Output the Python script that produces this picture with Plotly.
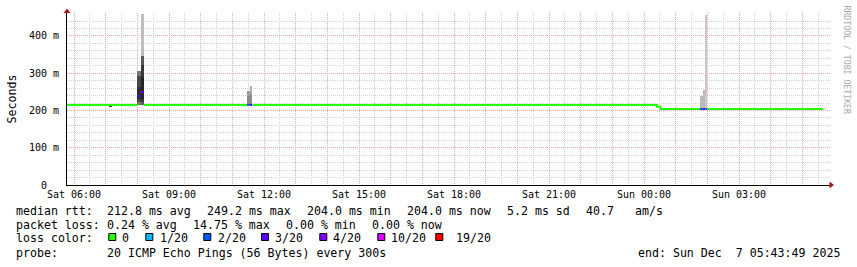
import pandas as pd
import plotly.graph_objects as go

# ---------------- data ----------------
loss_labels = ["0", "1/20", "2/20", "3/20", "4/20", "10/20", "19/20"]
loss_colors = ["#26ff00", "#00b8ff", "#0059ff", "#5e00ff", "#7e00ff", "#dd00ff", "#ff0000"]

# median RTT step segments (ms) with loss-colour index
med_start = ["2025-12-06 05:45:00", "2025-12-06 07:59:55", "2025-12-06 08:06:00",
             "2025-12-06 08:11:50", "2025-12-06 11:27:50", "2025-12-06 11:32:45",
             "2025-12-06 11:37:40", "2025-12-07 00:24:30", "2025-12-07 00:31:10",
             "2025-12-07 01:46:00", "2025-12-07 01:51:20", "2025-12-07 01:56:40",
             "2025-12-07 01:59:40"]
med_last_end = "2025-12-07 05:39:30"
med_ms = [215, 239, 249, 215, 215, 215, 215, 210, 204, 204, 204, 204, 204]
med_loss = [0, 3, 4, 0, 2, 3, 0, 0, 0, 2, 3, 2, 0]

# smoke (ping spread) layers: start, end, low ms, high ms, shade
smoke_start = ["2025-12-06 07:06:20",
               "2025-12-06 07:59:55", "2025-12-06 07:59:55", "2025-12-06 07:59:55",
               "2025-12-06 08:06:00", "2025-12-06 08:06:00", "2025-12-06 08:06:00", "2025-12-06 08:06:00",
               "2025-12-06 11:27:50", "2025-12-06 11:27:50",
               "2025-12-06 11:32:45", "2025-12-06 11:32:45",
               "2025-12-07 01:46:00", "2025-12-07 01:51:20", "2025-12-07 01:56:40"]
smoke_end = ["2025-12-06 07:12:00",
             "2025-12-06 08:06:00", "2025-12-06 08:06:00", "2025-12-06 08:06:00",
             "2025-12-06 08:11:50", "2025-12-06 08:11:50", "2025-12-06 08:11:50", "2025-12-06 08:11:50",
             "2025-12-06 11:32:45", "2025-12-06 11:32:45",
             "2025-12-06 11:37:40", "2025-12-06 11:37:40",
             "2025-12-07 01:51:20", "2025-12-07 01:56:40", "2025-12-07 01:59:40"]
smoke_lo = [210, 215, 222, 230, 215, 216, 222, 232, 215, 215, 215, 215, 204, 204, 204]
smoke_hi = [213, 306, 292, 262, 460, 346, 322, 290, 251, 240, 267, 245, 240, 255, 456]
smoke_shade = ["#333333", "#777777", "#474747", "#2e2e2e", "#bdbdbd", "#585858", "#383838",
               "#262626", "#9a9a9a", "#8a8a8a", "#acacac", "#8c8c8c", "#bbbbbb", "#bbbbbb", "#c8c8c8"]

# axis ticks
y_tickvals = [0, 100, 200, 300, 400]
y_ticktext = ["0\u00a0\u00a0", "100 m", "200 m", "300 m", "400 m"]
x_tickvals = list(pd.date_range("2025-12-06 06:00", "2025-12-07 05:00", freq="1h"))
x_label_text = {"2025-12-06 06:00": "Sat 06:00", "2025-12-06 09:00": "Sat 09:00",
                "2025-12-06 12:00": "Sat 12:00", "2025-12-06 15:00": "Sat 15:00",
                "2025-12-06 18:00": "Sat 18:00", "2025-12-06 21:00": "Sat 21:00",
                "2025-12-07 00:00": "Sun 00:00", "2025-12-07 03:00": "Sun 03:00"}
x_range = ["2025-12-06 05:46:44", "2025-12-07 05:52:25"]

# statistics legend
rtt_stats = ["median rtt:", "212.8 ms avg", "249.2 ms max", "204.0 ms min", "204.0 ms now",
             "5.2 ms sd", "40.7", "am/s"]
loss_stats = ["packet loss:", "0.24 % avg", "14.75 % max", "0.00 % min", "0.00 % now"]
probe_text = ["probe:", "20 ICMP Echo Pings (56 Bytes) every 300s"]
end_text = "end: Sun Dec  7 05:43:49 2025"

# ---------------- layout geometry (pixels) ----------------
W, H = 857, 267
L, R, T, B = 67, 830, 13, 185


def px(x):
    return (x - L) / (R - L)


def py(y):
    return (B - y) / (B - T)


MONO = "DejaVu Sans Mono"
fig = go.Figure()

# smoke bars
s0 = pd.to_datetime(smoke_start)
s1 = pd.to_datetime(smoke_end)
mid = s0 + (s1 - s0) / 2
widths = [(b - a).total_seconds() * 1000 for a, b in zip(s0, s1)]
fig.add_trace(go.Bar(
    x=mid, y=[h - l for l, h in zip(smoke_lo, smoke_hi)], base=smoke_lo, width=widths,
    marker=dict(color=smoke_shade, line=dict(width=0)), hoverinfo="skip"))

# median line, grouped into runs of equal loss colour
starts = pd.to_datetime(med_start)
ends = list(starts[1:]) + [pd.to_datetime(med_last_end)]
runs = []
for i in range(len(med_ms)):
    if runs and runs[-1]["loss"] == med_loss[i]:
        runs[-1]["x"] += [starts[i]]
        runs[-1]["y"] += [med_ms[i]]
        runs[-1]["end"] = ends[i]
        runs[-1]["last"] = med_ms[i]
    else:
        runs.append(dict(loss=med_loss[i], x=[starts[i]], y=[med_ms[i]], end=ends[i], last=med_ms[i]))
for r in runs:
    fig.add_trace(go.Scatter(
        x=r["x"] + [r["end"]], y=r["y"] + [r["last"]], mode="lines",
        line=dict(color=loss_colors[r["loss"]], width=2, shape="hv"), hoverinfo="skip"))

MGRID = "#eaa8a8"
GRID = "#d2d2d2"
DASH = "1px,1px"

fig.update_layout(
    width=W, height=H, margin=dict(l=L, r=W - R, t=T, b=H - B, pad=0),
    paper_bgcolor="white", plot_bgcolor="white", showlegend=False,
    barmode="overlay", bargap=0,
    font=dict(family=MONO, size=10, color="#000000"),
    xaxis=dict(type="date", range=x_range, tickmode="array", tickvals=x_tickvals,
               ticktext=[x_label_text.get(t.strftime("%Y-%m-%d %H:%M"), "") for t in x_tickvals],
               showgrid=True, gridcolor=MGRID, griddash=DASH, gridwidth=1,
               minor=dict(dtick=1800000, tick0="2025-12-06 06:00", showgrid=True,
                          gridcolor=GRID, griddash=DASH, gridwidth=1),
               showline=True, linecolor="#000000", linewidth=1, ticks="", zeroline=False,
               tickfont=dict(family=MONO, size=10, color="#000000"), fixedrange=True),
    yaxis=dict(range=[0, 461.7], tickmode="array", tickvals=y_tickvals, ticktext=y_ticktext,
               showgrid=True, gridcolor=MGRID, griddash=DASH, gridwidth=1,
               minor=dict(dtick=20, tick0=0, showgrid=True, gridcolor=GRID, griddash=DASH, gridwidth=1),
               showline=True, linecolor="#000000", linewidth=1, ticks="", zeroline=False,
               ticklabelstandoff=5,
               tickfont=dict(family=MONO, size=10, color="#000000"), fixedrange=True),
)

ann = []


def text(x, y, s, size=11.6, color="#000000", anchor="left", angle=0):
    ann.append(dict(x=px(x), y=py(y), xref="paper", yref="paper", text=s, showarrow=False,
                    xanchor=anchor, yanchor="middle", textangle=angle, borderpad=0, borderwidth=0,
                    font=dict(family=MONO, size=size, color=color)))


# axis titles / watermark
text(11, 99.5, "Seconds", size=11.6, anchor="center", angle=-90)
text(847, 59.5, "RRDTOOL / TOBI OETIKER", size=8.2, color="#aaaaaa", anchor="center", angle=90)

# legend rows
rtt_x = [16, 107.3, 207.3, 306.7, 407.3, 507.3, 586, 634.7]
for x, s in zip(rtt_x, rtt_stats):
    text(x, 211, s)
loss_x = [16, 107, 193.3, 285.7, 372.3]
for x, s in zip(loss_x, loss_stats):
    text(x, 225, s)
text(16, 238.5, "loss color:")
sq_x = [108.3, 145.3, 203.3, 261, 319.3, 377.3, 435.3]
lab_x = [121.7, 159.5, 217.7, 275.2, 332.5, 390.8, 455.8]
shapes = []
for sx, lx, lab, col in zip(sq_x, lab_x, loss_labels, loss_colors):
    shapes.append(dict(type="rect", xref="paper", yref="paper", x0=px(sx + 0.5), x1=px(sx + 7.5),
                       y0=py(233.5), y1=py(240.5), fillcolor=col, line=dict(color="#000000", width=1)))
    text(lx, 238.5, lab)
text(16, 252.5, probe_text[0])
text(107.3, 252.5, probe_text[1])
text(840, 252.5, end_text, anchor="right")

# axis arrows
ARROW = "#9b1c1c"
shapes.append(dict(type="path", xref="paper", yref="paper",
                   path=f"M {px(63.5)},{py(13)} L {px(70.5)},{py(13)} L {px(67)},{py(8.5)} Z",
                   fillcolor=ARROW, line=dict(width=0)))
shapes.append(dict(type="path", xref="paper", yref="paper",
                   path=f"M {px(829.5)},{py(181.5)} L {px(829.5)},{py(188.5)} L {px(834)},{py(185)} Z",
                   fillcolor=ARROW, line=dict(width=0)))

fig.update_layout(annotations=ann, shapes=shapes)
fig.write_html("out.html")
